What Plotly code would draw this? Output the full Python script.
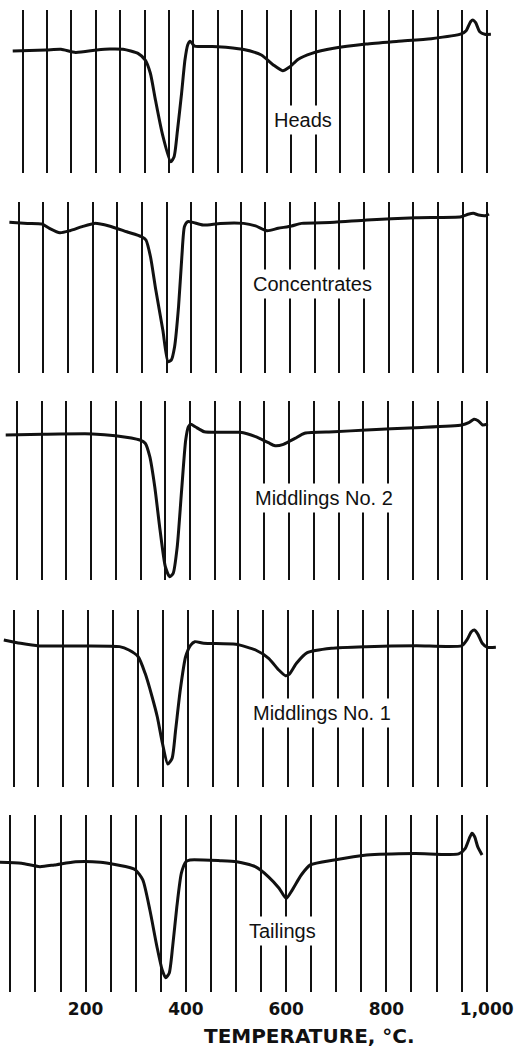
import plotly.graph_objects as go

# ---------------- data ----------------
samples = ["Heads", "Concentrates", "Middlings No. 2", "Middlings No. 1", "Tailings"]

# temperature (deg C) and DTA trace height (% of panel height, arbitrary units)
temp_heads = [30, 98.5, 128.8, 158.7, 202, 228.7, 256, 286.4, 301.4, 311.8, 322.2, 336.1,
              353.5, 360.4, 367.4, 375.7, 382.6, 388.2, 393, 397.2, 402.2, 449.6, 500.6,
              539.1, 563.6, 582.6, 597.7, 613.9, 642.4, 687.2, 753.3, 819.9, 886.8, 948,
              958.3, 967.4, 972.2, 977.8, 986.1, 996.5, 1009]
dta_heads = [74.8, 75.5, 75.9, 74.0, 75.5, 76.1, 75.9, 73.4, 69.3, 61.2, 44.8, 24.3,
             6.9, 10.0, 26.4, 48.9, 69.3, 78.5, 80.8, 79.6, 77.9, 77.5, 75.9,
             72.4, 66.3, 62.8, 65.2, 69.7, 73.4, 76.5, 79.1, 80.8, 82.4, 85.3,
             87.3, 92.8, 93.9, 92.2, 86.7, 85.1, 85.1]

temp_conc = [30.9, 67.6, 97, 112.1, 133.3, 153.6, 178.6, 203.5, 233.3, 268.9, 299.2, 307.9,
             317.1, 327.9, 342.1, 352.7, 359.3, 366, 374, 380.7, 386, 392.7, 402.8, 423.9,
             458.8, 506, 530.2, 553.4, 576, 603.3, 623.3, 690, 755.9, 855.2, 947.3, 961.3,
             971.8, 982.4, 996.5, 1003.5]
dta_conc = [88.1, 87.5, 87.1, 84.6, 82.0, 83.2, 85.6, 87.5, 86.0, 82.6, 79.7, 77.8,
            68.0, 48.5, 25.1, 6.6, 7.6, 15.4, 38.8, 68.0, 85.6, 88.5, 88.1, 86.5,
            87.5, 87.5, 86.0, 83.2, 84.6, 86.0, 87.5, 88.1, 89.5, 90.8, 91.4, 92.8,
            93.4, 92.4, 92.0, 93.0]

temp_mid2 = [27.6, 102.2, 202.8, 249.3, 298.5, 309.3, 318.6, 328.6, 339.3, 350, 358.9, 365.8,
             374, 382.9, 391.1, 396.6, 401.4, 410.4, 428.6, 462, 500.6, 532.3, 558.1, 571.6,
             588.5, 611.7, 631.2, 690.7, 756, 855.4, 948.7, 962.7, 973.2, 981.7, 990.8, 1001.4]
dta_mid2 = [81.0, 81.4, 81.6, 80.6, 78.2, 76.4, 68.9, 52.1, 27.9, 7.4, 1.8, 3.7,
            18.6, 50.3, 78.2, 85.6, 87.0, 85.6, 82.8, 82.5, 82.5, 80.1, 76.7, 75.0,
            75.8, 79.1, 82.0, 82.8, 83.8, 85.1, 86.6, 87.9, 89.8, 89.0, 86.6, 87.2]

temp_mid1 = [30.6, 64.2, 101.5, 188.7, 262.7, 281.3, 300, 313.9, 327.8, 338.2, 348.6, 359.3,
             367.9, 375, 384.3, 395, 405.2, 413.6, 431.2, 495.6, 535.3, 561.5, 581.8, 595.3,
             603.1, 617.3, 638.9, 687.3, 756.9, 857.1, 948.7, 958.9, 967.8, 974, 980.8,
             989.7, 1000, 1017]
dta_mid1 = [83.1, 81.2, 79.7, 79.7, 79.3, 77.4, 73.6, 64.2, 51.0, 39.7, 24.7, 13.0,
            16.2, 32.2, 54.8, 73.6, 80.2, 82.1, 81.2, 80.6, 77.4, 72.7, 66.1, 62.9,
            63.8, 69.9, 75.9, 78.4, 79.3, 79.8, 79.8, 83.1, 87.7, 88.7, 86.4,
            81.2, 78.9, 78.9]

temp_tail = [27.9, 72.1, 108.7, 137.7, 180.3, 229.6, 289.4, 300, 314.1, 328.2, 342.3, 352.8,
             359.7, 366.7, 373.6, 382, 391, 400, 408.1, 468.4, 501.2, 538.3, 564.8, 585.9,
             600, 612, 630.1, 648.2, 695.9, 760.5, 857.3, 944, 957.3, 965.3, 970.7, 976,
             982, 990.7]
dta_tail = [73.3, 72.7, 70.8, 71.8, 73.6, 73.3, 70.2, 68.9, 63.3, 46.3, 25.6, 12.4,
            8.1, 10.6, 25.6, 48.2, 67.1, 73.6, 74.6, 74.2, 73.6, 70.8, 65.1, 58.6,
            52.9, 57.6, 66.1, 71.8, 74.6, 77.4, 78.3, 78.0, 81.2, 86.8, 89.7, 87.7,
            82.1, 77.4]

temps = [temp_heads, temp_conc, temp_mid2, temp_mid1, temp_tail]
dtas = [dta_heads, dta_conc, dta_mid2, dta_mid1, dta_tail]

# label positions (temperature, trace height)
label_temp = [625, 646, 671, 669, 592]
label_dta = [32.5, 52.0, 45.8, 41.8, 34.5]

grid_temps = list(range(50, 1001, 50))
tick_names = {200: "200", 400: "400", 600: "600", 800: "800", 1000: "1,000"}
tick_text = [tick_names.get(t, "") for t in grid_temps]
x_title = "TEMPERATURE, °C."

# ---------------- layout geometry (pixels) ----------------
W, H = 515, 1048
px50 = [22.5, 18.8, 16.8, 13.5, 10.4]       # pixel x of the 50 deg line per panel
px1000 = [486.5, 487.2, 487.2, 487.4, 486.7]  # pixel x of the 1000 deg line
tops = [10, 202, 401, 610, 815]
bottoms = [173, 373, 580, 787, 992]

fig = go.Figure()
layout = dict(
    width=W, height=H,
    margin=dict(l=0, r=0, t=0, b=0),
    paper_bgcolor="white", plot_bgcolor="white",
    showlegend=False,
    annotations=[],
)

for i in range(5):
    k = "" if i == 0 else str(i + 1)
    s = (px1000[i] - px50[i]) / 950.0
    x0 = 50 - px50[i] / s
    x1 = 50 + (W - px50[i]) / s
    fig.add_trace(go.Scatter(
        x=temps[i], y=dtas[i], mode="lines",
        line=dict(color="#111111", width=3, shape="spline", smoothing=0.6),
        xaxis="x" + k, yaxis="y" + k, hoverinfo="skip",
    ))
    layout["xaxis" + k] = dict(
        domain=[0, 1], range=[x0, x1], anchor="y" + k,
        tickmode="array", tickvals=grid_temps, ticktext=tick_text,
        showticklabels=(i == 4), ticks="",
        ticklabelstandoff=5,
        tickfont=dict(family="DejaVu Sans", size=17, color="#111111", weight="bold"),
        showgrid=True, gridcolor="#111111", gridwidth=1.8,
        zeroline=False, showline=False, fixedrange=True,
    )
    layout["yaxis" + k] = dict(
        domain=[1 - bottoms[i] / H, 1 - tops[i] / H], range=[0, 100], anchor="x" + k,
        showgrid=False, zeroline=False, showline=False, showticklabels=False,
        ticks="", fixedrange=True,
    )
    layout["annotations"].append(dict(
        x=label_temp[i], y=label_dta[i], xref="x" + k, yref="y" + k,
        text=samples[i], showarrow=False, bgcolor="white", borderpad=3,
        font=dict(family="Liberation Sans", size=20, color="#111111"),
    ))

layout["annotations"].append(dict(
    x=309 / W, y=1 - 1036 / H, xref="paper", yref="paper",
    text=x_title, showarrow=False, xanchor="center", yanchor="middle",
    font=dict(family="DejaVu Sans", size=20, color="#111111", weight="bold"),
))

fig.update_layout(**layout)
fig.write_html("out.html")
